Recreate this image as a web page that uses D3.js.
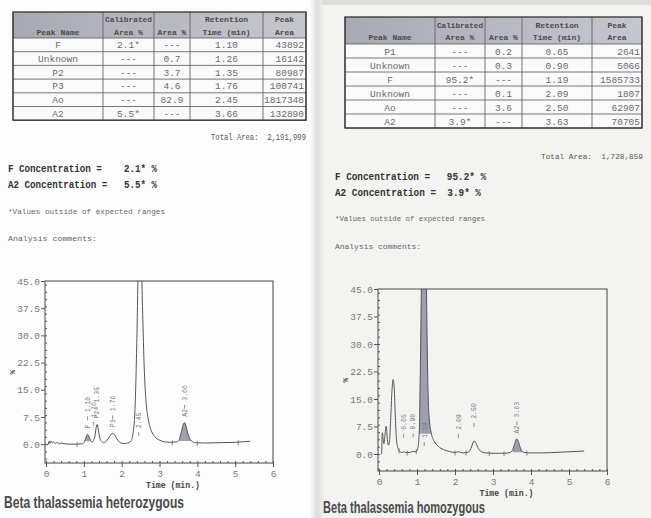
<!DOCTYPE html>
<html><head><meta charset="utf-8">
<script src="https://cdn.jsdelivr.net/npm/d3@7"></script>
<style>body{margin:0;background:#fff;} svg{display:block} text{white-space:pre}</style>
</head><body>
<script>
// ---------------- DATA ----------------
const leftPeakNames = ["F","Unknown","P2","P3","Ao","A2"];
const leftCalArea   = ["2.1*","---","---","---","---","5.5*"];
const leftAreaPct   = ["---","0.7","3.7","4.6","82.9","---"];
const leftRetTime   = ["1.10","1.26","1.35","1.76","2.45","3.66"];
const leftPeakArea  = ["43892","16142","80987","100741","1817348","132890"];
const leftTotal = "2,191,999";
const leftFConc = "2.1* %", leftA2Conc = "5.5* %";

const rightPeakNames = ["P1","Unknown","F","Unknown","Ao","A2"];
const rightCalArea   = ["---","---","95.2*","---","---","3.9*"];
const rightAreaPct   = ["0.2","0.3","---","0.1","3.6","---"];
const rightRetTime   = ["0.65","0.90","1.19","2.09","2.50","3.63"];
const rightPeakArea  = ["2641","5066","1585733","1807","62907","70705"];
const rightTotal = "1,728,859";
const rightFConc = "95.2* %", rightA2Conc = "3.9* %";

const headerLine1 = ["", "Calibrated", "", "Retention", "Peak"];
const headerLine2 = ["Peak Name", "Area %", "Area %", "Time (min)", "Area"];

const yTickValues = [0, 7.5, 15, 22.5, 30, 37.5, 45];
const xTickValues = [0, 1, 2, 3, 4, 5, 6];

// chromatogram traces [time (min), signal %]
const leftTrace = [[0.0,0.0],[0.05,-0.2],[0.08,0.8],[0.1,0.2],[0.13,0.9],[0.17,0.3],[0.2,0.6],[0.25,0.2],[0.3,0.5],[0.35,0.1],[0.4,0.3],[0.5,0.1],[0.6,0.0],[0.8,0.0],[0.95,0.1],[1.02,0.8],[1.07,2.2],[1.10,2.7],[1.14,2.0],[1.19,0.8],[1.23,0.6],[1.26,1.2],[1.29,2.0],[1.32,4.2],[1.35,5.4],[1.38,4.3],[1.42,1.8],[1.47,0.7],[1.52,0.4],[1.58,0.7],[1.65,1.6],[1.72,2.7],[1.76,3.0],[1.81,2.6],[1.88,1.4],[1.95,0.5],[2.02,0.2],[2.1,0.2],[2.2,0.5],[2.25,0.9],[2.3,3],[2.35,9],[2.4,28],[2.44,50],[2.48,58],[2.52,50],[2.55,38],[2.6,20],[2.65,11],[2.7,7],[2.78,3.8],[2.88,2.0],[3.0,1.1],[3.15,0.6],[3.3,0.5],[3.45,0.6],[3.52,1.2],[3.58,3.5],[3.63,5.5],[3.66,5.9],[3.7,5.0],[3.76,2.5],[3.84,0.9],[3.95,0.4],[4.2,0.3],[4.6,0.4],[5.0,0.5],[5.4,0.8]];
const leftFills = [[1.0,1.2],[3.5,3.88]];
const leftLabelTimes = [1.10, 1.26, 1.35, 1.76, 2.45, 3.66];
const leftLabelNames = ["F", "", "P2", "P3", "", "A2"];
const leftMarkers = [0.82, 3.34, 4.0, 5.08];

const rightTrace = [[0.07,0.0],[0.09,5.8],[0.11,4.0],[0.13,2.8],[0.16,5.5],[0.19,7.6],[0.22,4.0],[0.25,2.4],[0.28,4],[0.31,10],[0.34,17],[0.37,20.3],[0.40,18],[0.43,10],[0.46,4],[0.5,1.5],[0.55,0.6],[0.6,0.4],[0.65,0.6],[0.7,0.4],[0.8,0.4],[0.9,0.7],[0.97,0.6],[1.02,1.5],[1.06,6],[1.09,25],[1.12,50],[1.16,80],[1.19,90],[1.22,70],[1.25,45],[1.28,22],[1.32,10],[1.38,5.5],[1.45,3.5],[1.55,2.2],[1.7,1.2],[1.85,0.7],[2.0,0.4],[2.09,0.6],[2.2,0.3],[2.35,0.5],[2.42,1.5],[2.47,3.0],[2.5,3.6],[2.54,3.2],[2.6,1.8],[2.68,0.7],[2.8,0.3],[3.0,0.2],[3.3,0.2],[3.45,0.4],[3.52,1.2],[3.57,2.8],[3.62,4.1],[3.66,3.6],[3.72,1.6],[3.8,0.5],[3.95,0.3],[4.3,0.3],[4.8,0.5],[5.4,0.8]];
const rightFills = [[1.04,1.38],[3.48,3.8]];
const rightLabelTimes = [0.65, 0.90, 1.19, 2.09, 2.50, 3.63];
const rightLabelNames = ["", "", "", "", "", "A2"];
const rightMarkers = [0.53, 0.74, 0.98, 2.0, 2.29, 2.9, 3.29, 3.89];

// ---------------- DRAWING ----------------
const W = 651, H = 518;
const svg = d3.select("body").append("svg").attr("width", W).attr("height", H);
const defs = svg.append("defs");
const MONO = "'Liberation Mono','DejaVu Sans Mono',monospace";

// page backgrounds
const seam = defs.append("linearGradient").attr("id","seam").attr("x1","0").attr("x2","1");
seam.append("stop").attr("offset","0").attr("stop-color","#fbfbfb");
seam.append("stop").attr("offset","0.5").attr("stop-color","#dedede");
seam.append("stop").attr("offset","1").attr("stop-color","#f1f1ef");
svg.append("rect").attr("width",W).attr("height",H).attr("fill","#fdfdfd");
svg.append("rect").attr("x",322).attr("width",W-322).attr("height",H).attr("fill","#f3f3f1");
svg.append("rect").attr("x",310).attr("width",14).attr("height",H).attr("fill","url(#seam)");
svg.append("rect").attr("x",322).attr("width",W-322).attr("height",5).attr("fill","#dcdcdc");

const hdr = defs.append("linearGradient").attr("id","hdr").attr("x1","0").attr("x2","1");
hdr.append("stop").attr("offset","0").attr("stop-color","#a9a9b4");
hdr.append("stop").attr("offset","1").attr("stop-color","#c6c6ce");

function drawTable(geo, cols) {
  const g = svg.append("g");
  const {edges, top, hb, rowH} = geo;
  const n = cols[0].length;
  const bottom = hb + rowH * n;
  const x0 = edges[0], x1 = edges[edges.length-1];
  g.append("rect").attr("x",x0).attr("y",top).attr("width",x1-x0).attr("height",hb-top).attr("fill","url(#hdr)");
  g.append("rect").attr("x",x0).attr("y",hb).attr("width",x1-x0).attr("height",bottom-hb).attr("fill","#fafafa");
  d3.range(n+1).forEach(i => g.append("line").attr("x1",x0).attr("x2",x1)
     .attr("y1",hb+i*rowH).attr("y2",hb+i*rowH).attr("stroke","#555").attr("stroke-width",0.8));
  edges.forEach(e => g.append("line").attr("x1",e).attr("x2",e).attr("y1",top).attr("y2",bottom)
     .attr("stroke","#555").attr("stroke-width",0.8));
  g.append("rect").attr("x",x0).attr("y",top).attr("width",x1-x0).attr("height",bottom-top)
     .attr("fill","none").attr("stroke","#333").attr("stroke-width",1.3);
  headerLine1.forEach((t,i)=>{
    const cx = (edges[i]+edges[i+1])/2;
    const w = edges[i+1]-edges[i];
    if (t) g.append("text").attr("x",cx).attr("y",top+(hb-top)*0.4).attr("text-anchor","middle")
      .attr("font-family",MONO).attr("font-size",8).attr("font-weight","bold").attr("fill","#4a4a4a")
      .attr("textLength",Math.min(t.length*4.8, w-4)).attr("lengthAdjust","spacingAndGlyphs").text(t);
    const t2 = headerLine2[i];
    g.append("text").attr("x",cx).attr("y",top+(hb-top)*0.87).attr("text-anchor","middle")
      .attr("font-family",MONO).attr("font-size",8).attr("font-weight","bold").attr("fill","#4a4a4a")
      .attr("textLength",Math.min(t2.length*4.8, w-4)).attr("lengthAdjust","spacingAndGlyphs").text(t2);
  });
  cols.forEach((col, c) => {
    col.forEach((v, r) => {
      const yy = hb + rowH*r + rowH*0.75;
      const right = c === 4;
      g.append("text")
        .attr("x", right ? edges[c+1]-2 : (edges[c]+edges[c+1])/2)
        .attr("y", yy).attr("text-anchor", right ? "end" : "middle")
        .attr("font-family",MONO).attr("font-size",9.5).attr("fill","#6a6a6a").text(v);
    });
  });
}

drawTable({edges:[13,103,154,190,263,306], top:12, hb:38, rowH:13.7},
  [leftPeakNames,leftCalArea,leftAreaPct,leftRetTime,leftPeakArea]);
drawTable({edges:[345,435,485,522,592,642], top:17, hb:44, rowH:14},
  [rightPeakNames,rightCalArea,rightAreaPct,rightRetTime,rightPeakArea]);

function txt(x,y,s,size,opts={}) {
  const t = svg.append("text").attr("x",x).attr("y",y).attr("font-family",opts.family||MONO)
    .attr("font-size",size).attr("fill",opts.fill||"#555").attr("xml:space","preserve").text(s);
  if (opts.bold) t.attr("font-weight","bold");
  if (opts.len) t.attr("textLength",opts.len).attr("lengthAdjust","spacingAndGlyphs");
  if (opts.anchor) t.attr("text-anchor",opts.anchor);
  return t;
}

// Report text, left
txt(211,140,"Total Area:  " + leftTotal, 8.5, {len:95, fill:"#555"});
txt(8,172,"F Concentration =    " + leftFConc,11,{bold:true,fill:"#333",len:149});
txt(8,188,"A2 Concentration =   " + leftA2Conc,11,{bold:true,fill:"#333",len:149});
txt(8,214,"*Values outside of expected ranges",8,{len:157,fill:"#666"});
txt(8,241,"Analysis comments:",8,{len:89,fill:"#666"});
// Report text, right
txt(541,159,"Total Area:  " + rightTotal, 8, {len:102, fill:"#555"});
txt(335,180,"F Concentration =   " + rightFConc,11,{bold:true,fill:"#333",len:151});
txt(335,196,"A2 Concentration =  " + rightA2Conc,11,{bold:true,fill:"#333",len:146});
txt(335,221,"*Values outside of expected ranges",8,{len:150,fill:"#666"});
txt(335,249,"Analysis comments:",8,{len:86,fill:"#666"});

function valueAt(trace, t) {
  const i = d3.bisector(d=>d[0]).left(trace, t);
  if (i <= 0) return trace[0][1];
  if (i >= trace.length) return trace[trace.length-1][1];
  const a = trace[i-1], b = trace[i];
  return a[1] + (b[1]-a[1])*(t-a[0])/(b[0]-a[0]);
}

function drawChart(cfg, id) {
  const {left, right, top, bottom, x0px, yMin, trace, fills, labelTimes, labelNames, markers} = cfg;
  const x = d3.scaleLinear().domain([0,6]).range([x0px, right]);
  const y = d3.scaleLinear().domain([yMin,45]).range([bottom, top]);
  const g = svg.append("g");
  defs.append("clipPath").attr("id",id).append("rect")
    .attr("x",left).attr("y",top).attr("width",right-left).attr("height",bottom-top);
  const plot = g.append("g").attr("clip-path",`url(#${id})`);
  const curve = d3.curveMonotoneX;
  fills.forEach(([a,b])=>{
    const pts = trace.filter(d=>d[0]>=a && d[0]<=b);
    plot.append("path").datum(pts)
      .attr("d", d3.area().x(d=>x(d[0])).y0(y(Math.min(pts[0][1],pts[pts.length-1][1]))).y1(d=>y(d[1])).curve(curve))
      .attr("fill","#8e8ea6").attr("fill-opacity",0.85);
  });
  plot.append("path").datum(trace)
    .attr("d", d3.line().x(d=>x(d[0])).y(d=>y(d[1])).curve(curve))
    .attr("fill","none").attr("stroke","#555").attr("stroke-width",1);
  g.append("rect").attr("x",left).attr("y",top).attr("width",right-left).attr("height",bottom-top)
    .attr("fill","none").attr("stroke","#555").attr("stroke-width",1.1);
  const yAx = g.append("g").attr("transform",`translate(${left},0)`)
    .call(d3.axisLeft(y).tickValues(yTickValues).tickSize(4).tickPadding(1).tickFormat(d3.format(".1f")));
  const yMinor = g.append("g").attr("transform",`translate(${left},0)`)
    .call(d3.axisRight(y).ticks(33).tickSize(2).tickFormat(""));
  const xAx = g.append("g").attr("transform",`translate(0,${bottom})`)
    .call(d3.axisBottom(x).tickValues(xTickValues).tickSize(4).tickPadding(3).tickFormat(d3.format("d")));
  const xMinor = g.append("g").attr("transform",`translate(0,${bottom})`)
    .call(d3.axisTop(x).ticks(30).tickSize(2).tickFormat(""));
  [yAx,yMinor,xAx,xMinor].forEach(a=>{
    a.select(".domain").remove();
    a.selectAll("line").attr("stroke","#555");
    a.selectAll("text").attr("font-family",MONO).attr("font-size",9.5).attr("fill","#777");
  });
  g.append("text").attr("transform",`translate(${left-30},${(top+bottom)/2}) rotate(-90)`)
    .attr("text-anchor","middle").attr("font-family",MONO).attr("font-size",8).attr("font-weight","bold")
    .attr("fill","#555").text("%");
  g.append("text").attr("x",(left+right)/2+14).attr("y",bottom+25).attr("text-anchor","middle")
    .attr("font-family",MONO).attr("font-size",9).attr("font-weight","bold").attr("fill","#444")
    .attr("textLength",54).attr("lengthAdjust","spacingAndGlyphs").text("Time (min.)");
  markers.forEach(t=>{
    const yy = y(valueAt(trace,t));
    g.append("line").attr("x1",x(t)).attr("x2",x(t)).attr("y1",yy-2).attr("y2",yy+3)
      .attr("stroke","#666").attr("stroke-width",0.8);
  });
  labelTimes.forEach((t,i)=>{
    const v = valueAt(trace,t);
    const px = x(t);
    const lab = g.append("g").attr("fill","#777").attr("font-family",MONO).attr("font-size",6.5);
    let dashY, timeY;
    if (v > 45) {
      const ay = y(0) - 4;
      dashY = ay - 6; timeY = ay - 12;
    } else {
      const py = y(v);
      dashY = py - 16; timeY = py - 22;
      if (labelNames[i]) lab.append("text").attr("transform",`translate(${px},${py-6}) rotate(-90)`)
        .attr("dy","0.35em").text(labelNames[i]);
    }
    lab.append("line").attr("x1",px).attr("x2",px).attr("y1",dashY-2).attr("y2",dashY+2)
      .attr("stroke","#777").attr("stroke-width",0.8);
    lab.append("text").attr("transform",`translate(${px},${timeY}) rotate(-90)`)
      .attr("dy","0.35em").text(d3.format(".2f")(t));
  });
}

drawChart({left:45, right:273, top:281, bottom:463, x0px:46, yMin:-5.2, trace:leftTrace, fills:leftFills,
  labelTimes:leftLabelTimes, labelNames:leftLabelNames, markers:leftMarkers}, "clipL");
drawChart({left:378, right:607, top:289, bottom:471, x0px:379, yMin:-4.64, trace:rightTrace, fills:rightFills,
  labelTimes:rightLabelTimes, labelNames:rightLabelNames, markers:rightMarkers}, "clipR");

const CAP = "'Liberation Sans Narrow','Arial Narrow','Liberation Sans',sans-serif";
txt(4,508,"Beta thalassemia heterozygous",17,{family:CAP,bold:true,fill:"#4a4a4a",len:180});
txt(323,513,"Beta thalassemia homozygous",17,{family:CAP,bold:true,fill:"#4a4a4a",len:162});
</script></body></html>
